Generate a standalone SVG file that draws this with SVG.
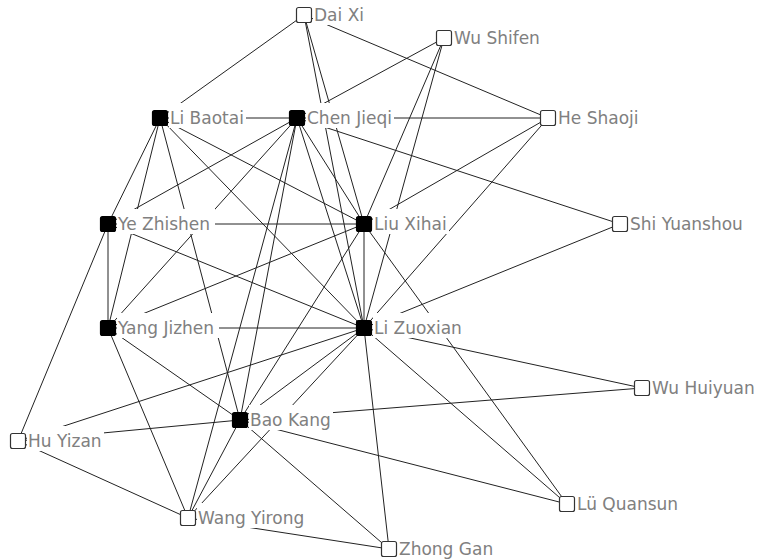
<svg xmlns="http://www.w3.org/2000/svg" width="759" height="560" viewBox="0 0 759 560">
<style>
.e{stroke:#222;stroke-width:1;fill:none}
.bx{fill:#fff;stroke:none}
.t{font-family:"DejaVu Sans",Verdana,sans-serif;font-size:17px;fill:#808080}
.k{fill:#000;stroke:#000;stroke-width:1.2}
.w{fill:#fff;stroke:#333;stroke-width:1.2}
</style>
<rect width="759" height="560" fill="#fff"/>
<g id="edges">
<line class="e" x1="304" y1="15" x2="160" y2="118"/>
<line class="e" x1="304" y1="15" x2="548" y2="118"/>
<line class="e" x1="304" y1="15" x2="364" y2="224"/>
<line class="e" x1="304" y1="15" x2="364" y2="328"/>
<line class="e" x1="444" y1="38" x2="297" y2="118"/>
<line class="e" x1="444" y1="38" x2="364" y2="224"/>
<line class="e" x1="444" y1="38" x2="364" y2="328"/>
<line class="e" x1="548" y1="118" x2="297" y2="118"/>
<line class="e" x1="548" y1="118" x2="364" y2="224"/>
<line class="e" x1="548" y1="118" x2="364" y2="328"/>
<line class="e" x1="620" y1="224" x2="297" y2="118"/>
<line class="e" x1="620" y1="224" x2="364" y2="328"/>
<line class="e" x1="160" y1="118" x2="297" y2="118"/>
<line class="e" x1="160" y1="118" x2="108" y2="224"/>
<line class="e" x1="160" y1="118" x2="108" y2="328"/>
<line class="e" x1="160" y1="118" x2="364" y2="224"/>
<line class="e" x1="160" y1="118" x2="364" y2="328"/>
<line class="e" x1="160" y1="118" x2="240" y2="420"/>
<line class="e" x1="297" y1="118" x2="108" y2="224"/>
<line class="e" x1="297" y1="118" x2="108" y2="328"/>
<line class="e" x1="297" y1="118" x2="364" y2="224"/>
<line class="e" x1="297" y1="118" x2="364" y2="328"/>
<line class="e" x1="297" y1="118" x2="240" y2="420"/>
<line class="e" x1="297" y1="118" x2="188" y2="518"/>
<line class="e" x1="108" y1="224" x2="108" y2="328"/>
<line class="e" x1="108" y1="224" x2="364" y2="224"/>
<line class="e" x1="108" y1="224" x2="364" y2="328"/>
<line class="e" x1="108" y1="224" x2="18" y2="441"/>
<line class="e" x1="108" y1="328" x2="364" y2="224"/>
<line class="e" x1="108" y1="328" x2="364" y2="328"/>
<line class="e" x1="108" y1="328" x2="240" y2="420"/>
<line class="e" x1="108" y1="328" x2="188" y2="518"/>
<line class="e" x1="364" y1="224" x2="364" y2="328"/>
<line class="e" x1="364" y1="224" x2="240" y2="420"/>
<line class="e" x1="364" y1="224" x2="567" y2="504"/>
<line class="e" x1="364" y1="328" x2="18" y2="441"/>
<line class="e" x1="364" y1="328" x2="188" y2="518"/>
<line class="e" x1="364" y1="328" x2="240" y2="420"/>
<line class="e" x1="364" y1="328" x2="389" y2="549"/>
<line class="e" x1="364" y1="328" x2="567" y2="504"/>
<line class="e" x1="364" y1="328" x2="642" y2="388"/>
<line class="e" x1="240" y1="420" x2="18" y2="441"/>
<line class="e" x1="240" y1="420" x2="188" y2="518"/>
<line class="e" x1="240" y1="420" x2="389" y2="549"/>
<line class="e" x1="240" y1="420" x2="642" y2="388"/>
<line class="e" x1="240" y1="420" x2="567" y2="504"/>
<line class="e" x1="18" y1="441" x2="188" y2="518"/>
<line class="e" x1="188" y1="518" x2="389" y2="549"/>
</g>
<g id="DaiXi"><rect class="bx" x="313" y="0" width="53" height="25"/><text class="t" x="314" y="21">Dai Xi</text><rect class="w" x="296.5" y="7.5" width="15" height="15" rx="2"/></g>
<g id="WuShifen"><rect class="bx" x="453" y="23" width="90" height="25"/><text class="t" x="454" y="44">Wu Shifen</text><rect class="w" x="436.5" y="30.5" width="15" height="15" rx="2"/></g>
<g id="LiBaotai"><rect class="bx" x="169" y="103" width="77" height="25"/><text class="t" x="170" y="124">Li Baotai</text><rect class="k" x="152.5" y="110.5" width="15" height="15" rx="2"/></g>
<g id="ChenJieqi"><rect class="bx" x="306" y="103" width="88" height="25"/><text class="t" x="307" y="124">Chen Jieqi</text><rect class="k" x="289.5" y="110.5" width="15" height="15" rx="2"/></g>
<g id="HeShaoji"><rect class="bx" x="557" y="103" width="84" height="25"/><text class="t" x="558" y="124">He Shaoji</text><rect class="w" x="540.5" y="110.5" width="15" height="15" rx="2"/></g>
<g id="YeZhishen"><rect class="bx" x="117" y="209" width="98" height="25"/><text class="t" x="118" y="230">Ye Zhishen</text><rect class="k" x="100.5" y="216.5" width="15" height="15" rx="2"/></g>
<g id="LiuXihai"><rect class="bx" x="373" y="209" width="76" height="25"/><text class="t" x="374" y="230">Liu Xihai</text><rect class="k" x="356.5" y="216.5" width="15" height="15" rx="2"/></g>
<g id="ShiYuanshou"><rect class="bx" x="629" y="209" width="118" height="25"/><text class="t" x="630" y="230">Shi Yuanshou</text><rect class="w" x="612.5" y="216.5" width="15" height="15" rx="2"/></g>
<g id="YangJizhen"><rect class="bx" x="117" y="313" width="102" height="25"/><text class="t" x="118" y="334">Yang Jizhen</text><rect class="k" x="100.5" y="320.5" width="15" height="15" rx="2"/></g>
<g id="LiZuoxian"><rect class="bx" x="373" y="313" width="92" height="25"/><text class="t" x="374" y="334">Li Zuoxian</text><rect class="k" x="356.5" y="320.5" width="15" height="15" rx="2"/></g>
<g id="WuHuiyuan"><rect class="bx" x="651" y="373" width="107" height="25"/><text class="t" x="652" y="394">Wu Huiyuan</text><rect class="w" x="634.5" y="380.5" width="15" height="15" rx="2"/></g>
<g id="BaoKang"><rect class="bx" x="249" y="405" width="84" height="25"/><text class="t" x="250" y="426">Bao Kang</text><rect class="k" x="232.5" y="412.5" width="15" height="15" rx="2"/></g>
<g id="HuYizan"><rect class="bx" x="27" y="426" width="77" height="25"/><text class="t" x="28" y="447">Hu Yizan</text><rect class="w" x="10.5" y="433.5" width="15" height="15" rx="2"/></g>
<g id="LvQuansun"><rect class="bx" x="576" y="489" width="105" height="25"/><text class="t" x="577" y="510">Lü Quansun</text><rect class="w" x="559.5" y="496.5" width="15" height="15" rx="2"/></g>
<g id="WangYirong"><rect class="bx" x="197" y="503" width="112" height="25"/><text class="t" x="198" y="524">Wang Yirong</text><rect class="w" x="180.5" y="510.5" width="15" height="15" rx="2"/></g>
<g id="ZhongGan"><rect class="bx" x="398" y="534" width="97" height="25"/><text class="t" x="399" y="555">Zhong Gan</text><rect class="w" x="381.5" y="541.5" width="15" height="15" rx="2"/></g>
</svg>
